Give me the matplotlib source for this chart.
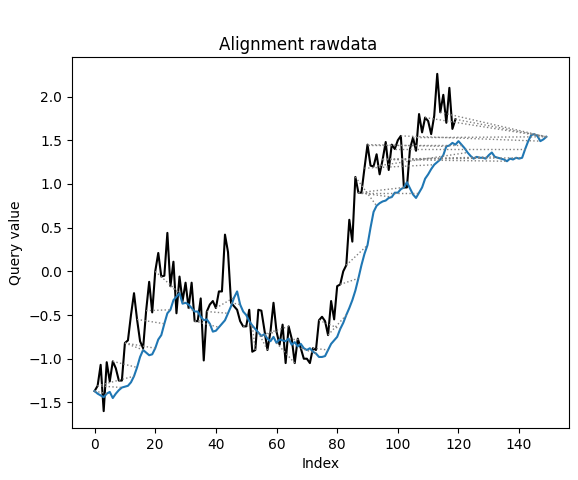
import numpy as np
import matplotlib
matplotlib.use("Agg")
import matplotlib.pyplot as plt
import matplotlib.collections as mc

# query series (black)
query = [
    -1.37, -1.31, -1.07, -1.60, -1.04, -1.26, -1.03, -1.11, -1.25, -1.25,
    -0.82, -0.79, -0.50, -0.25, -0.55, -0.80, -0.88, -0.45, -0.12, -0.47,
    0.00, 0.21, -0.06, -0.05, 0.44, -0.17, 0.11, -0.48, -0.06, -0.34,
    -0.13, -0.42, -0.13, -0.57, -0.57, -0.31, -1.02, -0.46, -0.38, -0.34,
    -0.42, -0.23, -0.23, 0.42, 0.22, -0.36, -0.40, -0.44, -0.57, -0.63,
    -0.63, -0.44, -0.92, -0.90, -0.44, -0.45, -0.67, -0.90, -0.69, -0.36,
    -0.69, -0.84, -0.61, -1.05, -0.63, -0.77, -1.05, -0.77, -0.88, -1.00,
    -1.00, -1.05, -0.88, -0.90, -0.56, -0.52, -0.57, -0.73, -0.34, -0.55,
    -0.17, -0.15, 0.00, 0.07, 0.59, 0.34, 1.08, 0.90, 0.90, 1.18,
    1.45, 1.21, 1.20, 1.34, 1.11, 1.28, 1.48, 1.16, 1.45, 1.40,
    1.50, 1.55, 0.96, 0.96, 1.40, 1.53, 1.38, 1.80, 1.59, 1.76,
    1.72, 1.57, 1.78, 2.26, 1.82, 2.02, 1.70, 2.10, 1.63, 1.74,
]

# reference series (blue)
reference = [
    -1.37, -1.40, -1.42, -1.44, -1.40, -1.38, -1.45, -1.40, -1.36, -1.33,
    -1.32, -1.31, -1.27, -1.20, -1.10, -0.98, -0.90, -0.93, -0.96, -0.95,
    -0.88, -0.78, -0.73, -0.60, -0.48, -0.44, -0.33, -0.29, -0.25, -0.37,
    -0.36, -0.38, -0.42, -0.46, -0.46, -0.52, -0.56, -0.55, -0.60, -0.69,
    -0.68, -0.64, -0.60, -0.56, -0.48, -0.40, -0.30, -0.23, -0.38, -0.46,
    -0.50, -0.57, -0.62, -0.66, -0.70, -0.74, -0.72, -0.77, -0.80, -0.75,
    -0.82, -0.78, -0.79, -0.80, -0.77, -0.84, -0.81, -0.86, -0.83, -0.88,
    -0.90, -0.88, -0.92, -0.94, -0.98, -0.98, -0.97, -0.90, -0.83, -0.79,
    -0.75, -0.66, -0.59, -0.50, -0.42, -0.33, -0.22, -0.08, 0.07, 0.20,
    0.30, 0.50, 0.68, 0.75, 0.78, 0.80, 0.81, 0.84, 0.85, 0.90,
    0.90, 0.94, 0.96, 1.02, 0.95, 0.88, 0.84, 0.90, 0.96, 1.06,
    1.11, 1.17, 1.22, 1.25, 1.28, 1.33, 1.43, 1.44, 1.47, 1.45,
    1.49, 1.45, 1.41, 1.36, 1.32, 1.29, 1.31, 1.30, 1.30, 1.29,
    1.33, 1.36, 1.31, 1.30, 1.29, 1.28, 1.26, 1.29, 1.28, 1.30,
    1.29, 1.30, 1.40, 1.49, 1.56, 1.57, 1.55, 1.49, 1.51, 1.54,
]

n_matches = 50


def dtw_path(x, y):
    # symmetric2 step pattern, euclidean local distance
    x = np.asarray(x)
    y = np.asarray(y)
    n, m = len(x), len(y)
    d = np.abs(x[:, None] - y[None, :])
    g = np.full((n, m), np.inf)
    step = np.zeros((n, m), dtype=int)
    g[0, 0] = d[0, 0]
    for i in range(n):
        for j in range(m):
            if i == 0 and j == 0:
                continue
            best = np.inf
            s = 0
            if i > 0 and j > 0 and g[i - 1, j - 1] + 2 * d[i, j] < best:
                best = g[i - 1, j - 1] + 2 * d[i, j]
                s = 1
            if j > 0 and g[i, j - 1] + d[i, j] < best:
                best = g[i, j - 1] + d[i, j]
                s = 2
            if i > 0 and g[i - 1, j] + d[i, j] < best:
                best = g[i - 1, j] + d[i, j]
                s = 3
            g[i, j] = best
            step[i, j] = s
    i, j = n - 1, m - 1
    i1, i2 = [i], [j]
    while i > 0 or j > 0:
        s = step[i, j]
        if s == 1:
            i, j = i - 1, j - 1
        elif s == 2:
            j -= 1
        else:
            i -= 1
        i1.append(i)
        i2.append(j)
    return np.array(i1[::-1]), np.array(i2[::-1])


index1, index2 = dtw_path(query, reference)

fig = plt.figure(figsize=(5.78, 4.8), dpi=100)
ax = fig.add_axes([72 / 578, 1 - 428 / 480, 497 / 578, (428 - 57) / 480])

ax.plot(np.arange(len(query)), query, color="k")
ax.plot(np.arange(len(reference)), reference)

idx = np.linspace(0, len(index1) - 1, n_matches).astype(int)
segs = []
for k in idx:
    segs.append([(index1[k], query[index1[k]]),
                 (index2[k], reference[index2[k]])])
lc = mc.LineCollection(segs, linewidths=1, linestyles=":", colors="gray")
ax.add_collection(lc)

ax.set_xlabel("Index")
ax.set_ylabel("Query value")
fig.text(298 / 578, 1 - 45 / 480, "Alignment rawdata", ha="center", va="center", fontsize=12)

fig.savefig("out.png", dpi=100)
